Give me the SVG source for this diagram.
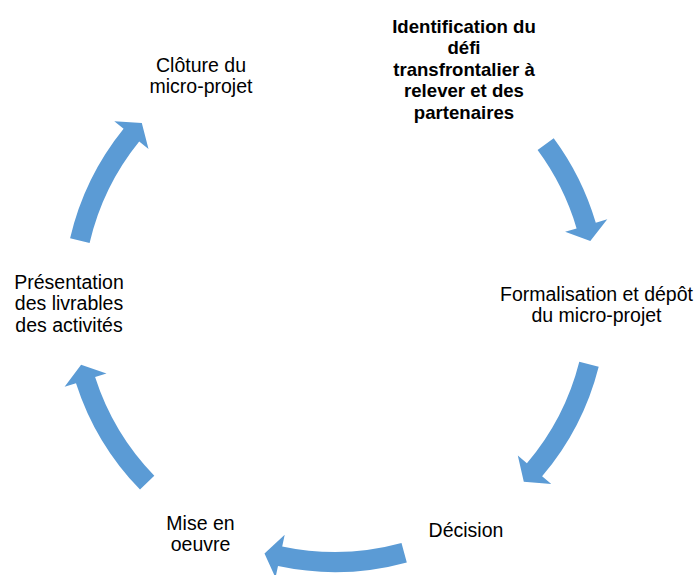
<svg xmlns="http://www.w3.org/2000/svg" width="699" height="575" viewBox="0 0 699 575">
<style>
.arrow{fill:#5B9BD5;stroke:none}
.t{font-family:"Liberation Sans",Arial,sans-serif;font-size:19.5px;fill:#000;text-anchor:middle}
.b{font-family:"Liberation Sans",Arial,sans-serif;font-size:18.6px;font-weight:bold;fill:#000;text-anchor:middle}
</style>
<rect width="699" height="575" fill="#fff"/>
<g id="connectors">
<path class="arrow" d="M553.7,138.2 A272,272 0 0 1 595.8,222.8 L607.3,219.3 L590.3,241.0 L565.1,231.8 L576.6,228.4 A252,252 0 0 0 537.6,150.1 Z"/>
<path class="arrow" d="M598.7,366.7 A272,272 0 0 1 542.1,476.3 L551.3,484.1 L523.8,481.7 L517.8,455.5 L526.9,463.3 A252,252 0 0 0 579.3,361.8 Z"/>
<path class="arrow" d="M406.8,562.4 A272,272 0 0 1 278.0,566.0 L275.5,577.7 L264.5,553.4 L284.7,534.7 L282.2,546.4 A252,252 0 0 0 401.5,543.1 Z"/>
<path class="arrow" d="M140.0,489.6 A272,272 0 0 1 76.0,383.2 L64.6,386.8 L81.1,364.7 L106.5,373.4 L95.1,377.0 A252,252 0 0 0 154.3,475.7 Z"/>
<path class="arrow" d="M70.1,238.3 A272,272 0 0 1 123.6,128.8 L114.3,121.3 L141.8,123.0 L148.5,149.0 L139.2,141.4 A252,252 0 0 0 89.6,242.9 Z"/>
</g>
<g id="node-identification">
<text class="b" x="464" y="32.5">Identification du</text>
<text class="b" x="464" y="54">défi</text>
<text class="b" x="464" y="75.5">transfrontalier à</text>
<text class="b" x="464" y="97">relever et des</text>
<text class="b" x="464" y="118.5">partenaires</text>
</g>
<g id="node-formalisation">
<text class="t" x="596.5" y="301">Formalisation et dépôt</text>
<text class="t" x="596.5" y="322">du micro-projet</text>
</g>
<g id="node-decision">
<text class="t" x="466" y="537">Décision</text>
</g>
<g id="node-mise-en-oeuvre">
<text class="t" x="200.5" y="530">Mise en</text>
<text class="t" x="200.5" y="551">oeuvre</text>
</g>
<g id="node-presentation">
<text class="t" x="69" y="288.5">Présentation</text>
<text class="t" x="69" y="310">des livrables</text>
<text class="t" x="69" y="331.5">des activités</text>
</g>
<g id="node-cloture">
<text class="t" x="201" y="71.5">Clôture du</text>
<text class="t" x="201" y="93">micro-projet</text>
</g>
</svg>
